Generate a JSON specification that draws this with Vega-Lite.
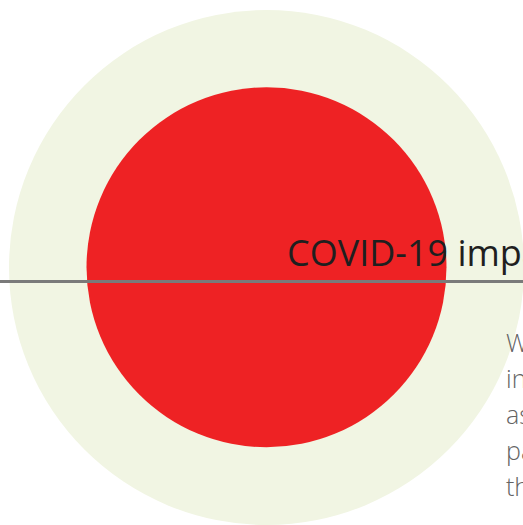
{
  "$schema": "https://vega.github.io/schema/vega-lite/v6.json",
  "width": 523,
  "height": 525,
  "padding": 0,
  "autosize": {"type": "none"},
  "background": "white",
  "config": {"view": {"stroke": null}},
  "datasets": {
    "circles": [
      {"ring": "outer", "cx": 266.5, "cy": 267.5, "share": 100},
      {"ring": "inner", "cx": 266.5, "cy": 267.3, "share": 48.86}
    ],
    "divider": [{"level": 281.5}],
    "labels": [
      {"kind": "title", "px": 287, "py": 266, "label": "COVID-19 impact"},
      {"kind": "body", "px": 506, "py": 352, "label": "While the pandemic\ninitially hit hard\nas many regions\npaused activity,\nthe recovery began"}
    ]
  },
  "layer": [
    {
      "data": {"name": "circles"},
      "mark": {"type": "point", "shape": "circle", "filled": true, "opacity": 1, "strokeWidth": 0},
      "encoding": {
        "x": {"field": "cx", "type": "quantitative", "scale": {"domain": [0, 523], "nice": false, "zero": false}, "axis": null},
        "y": {"field": "cy", "type": "quantitative", "scale": {"domain": [0, 525], "nice": false, "zero": false, "reverse": true}, "axis": null},
        "size": {"field": "share", "type": "quantitative", "scale": {"domain": [0, 100], "range": [0, 265225]}, "legend": null},
        "color": {"field": "ring", "type": "nominal", "scale": {"domain": ["outer", "inner"], "range": ["#f1f5e3", "#ee2224"]}, "legend": null},
        "order": {"field": "share", "sort": "descending"}
      }
    },
    {
      "data": {"name": "divider"},
      "mark": {"type": "rule", "stroke": "#7a7a7a", "strokeWidth": 3},
      "encoding": {
        "y": {"field": "level", "type": "quantitative", "scale": {"domain": [0, 525], "nice": false, "zero": false, "reverse": true}, "axis": null}
      }
    },
    {
      "data": {"name": "labels"},
      "transform": [{"filter": "datum.kind === 'title'"}],
      "mark": {"type": "text", "font": "Open Sans", "fontSize": 36, "color": "#1f1f1f", "align": "left", "baseline": "alphabetic"},
      "encoding": {
        "x": {"field": "px", "type": "quantitative", "scale": {"domain": [0, 523], "nice": false, "zero": false}, "axis": null},
        "y": {"field": "py", "type": "quantitative", "scale": {"domain": [0, 525], "nice": false, "zero": false, "reverse": true}, "axis": null},
        "text": {"field": "label"}
      }
    },
    {
      "data": {"name": "labels"},
      "transform": [{"filter": "datum.kind === 'body'"}],
      "mark": {"type": "text", "font": "Open Sans", "fontSize": 25, "fontWeight": 300, "color": "#636363", "align": "left", "baseline": "alphabetic", "lineBreak": "\n", "lineHeight": 36},
      "encoding": {
        "x": {"field": "px", "type": "quantitative", "scale": {"domain": [0, 523], "nice": false, "zero": false}, "axis": null},
        "y": {"field": "py", "type": "quantitative", "scale": {"domain": [0, 525], "nice": false, "zero": false, "reverse": true}, "axis": null},
        "text": {"field": "label"}
      }
    }
  ]
}
